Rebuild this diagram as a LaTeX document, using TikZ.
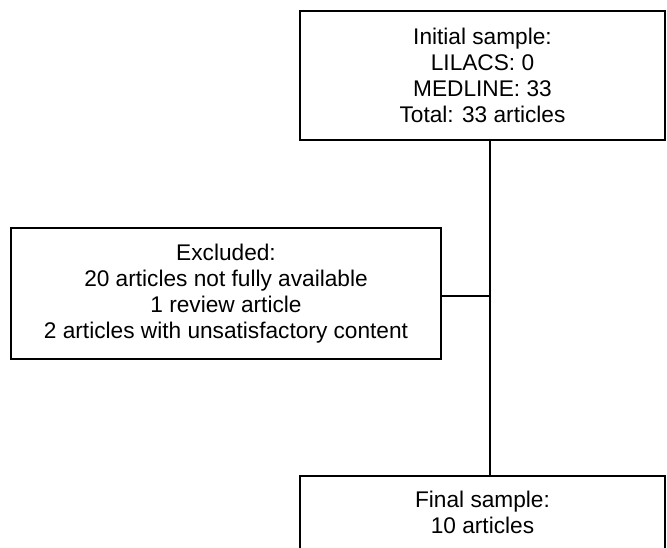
\documentclass[tikz,border=0pt]{standalone}
\usepackage{fontspec}
\setmainfont{Liberation Sans}
\begin{document}
\begin{tikzpicture}[x=0.75pt,y=-0.75pt,line width=2pt,
	box/.style={draw,rectangle,align=center,inner sep=0pt,font=\fontsize{17}{19.5}\selectfont}]
	\useasboundingbox (0,0) rectangle (667,548);
	\node[box,minimum width=273.75pt,minimum height=96.75pt] (init) at (482.5,75.5)
		{Initial sample:\\LILACS: 0\\MEDLINE: 33\\Total: 33 articles};
	\node[box,minimum width=322.5pt,minimum height=98.25pt] (excl) at (226,293.5)
		{Excluded:\\20 articles not fully available\\1 review article\\2 articles with unsatisfactory content};
	\node[box,minimum width=273.75pt,minimum height=54.75pt] (final) at (482.5,512.5)
		{Final sample:\\10 articles};
	\coordinate (j) at (490,296);
	\draw (j |- init.south) -- (j |- final.north);
	\draw (excl.east |- j) -- (j);
\end{tikzpicture}
\end{document}
